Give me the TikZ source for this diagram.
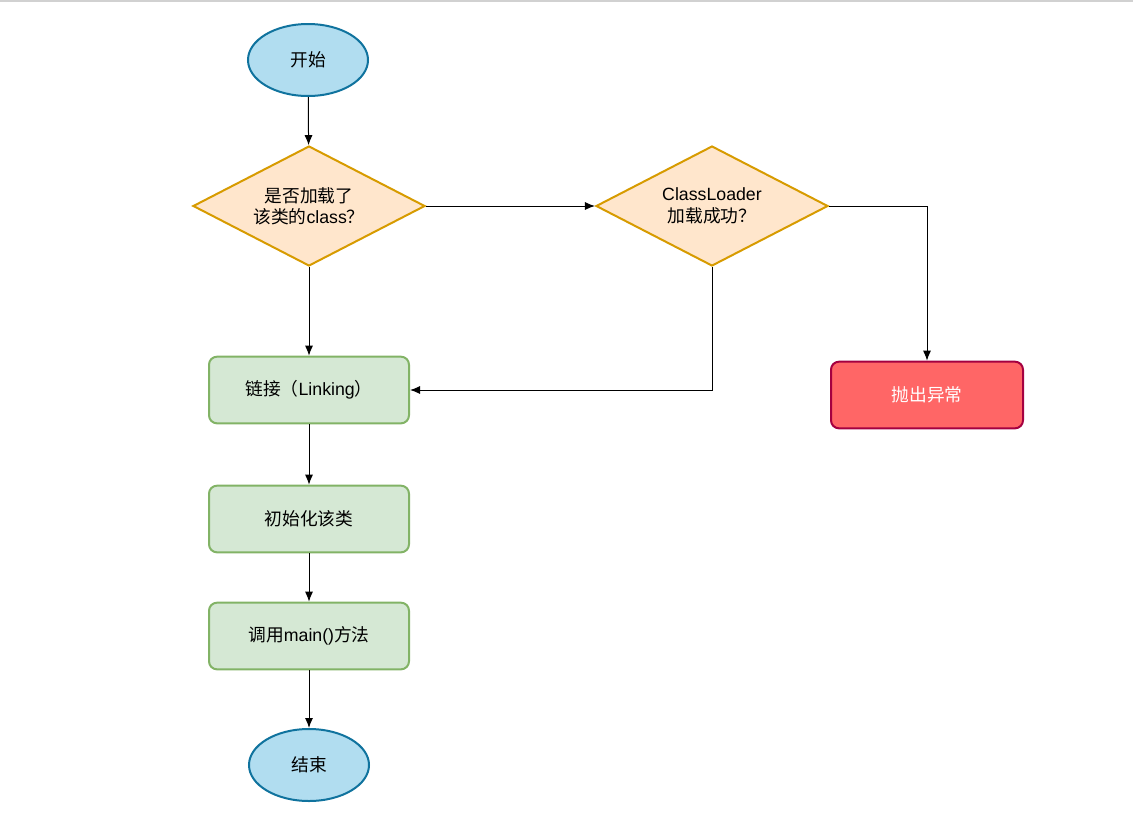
\documentclass[tikz,border=0pt]{standalone}
\usepackage{fontspec}
\setmainfont{Liberation Sans}
\newfontfamily\cjk{Noto Sans CJK SC}
\newcommand{\zh}[1]{{\cjk #1}}
\usetikzlibrary{arrows.meta}
\usetikzlibrary{shapes.geometric}
\definecolor{termfill}{HTML}{B1DDF0}
\definecolor{termline}{HTML}{10739E}
\definecolor{askfill}{HTML}{FFE6CC}
\definecolor{askline}{HTML}{D79B00}
\definecolor{stepfill}{HTML}{D5E8D4}
\definecolor{stepline}{HTML}{82B366}
\definecolor{errfill}{HTML}{FF6666}
\definecolor{errline}{HTML}{A50040}
\tikzstyle{term} = [draw=termline, fill=termfill, line width=1.5pt, shape=ellipse, minimum width=90pt, minimum height=54pt, inner sep=0pt]
\tikzstyle{ask} = [draw=askline, fill=askfill, line width=1.5pt, shape=diamond, aspect=1.93, minimum width=174pt, minimum height=90pt, inner sep=0pt, align=center]
\tikzstyle{stepbox} = [draw=stepline, fill=stepfill, line width=1.5pt, rounded corners=6pt, minimum width=150pt, minimum height=50pt]
\tikzstyle{errbox} = [draw=errline, fill=errfill, line width=1.5pt, rounded corners=6pt, minimum width=144pt, minimum height=50pt, text=white]
\tikzstyle{tuh} = [style={-{Latex[length=7.5pt,width=6pt]}, line width=0.75pt}]

\begin{document}
\begin{tikzpicture}[x=0.75pt, y=-0.75pt, font=\fontsize{13.3}{16}\selectfont]
        \useasboundingbox (0,0) rectangle (1133,836);
        \draw[black!18, line width=1.2pt] (0,0.8) -- (1133,0.8);
        \node[term] (start) at (308,60) {\zh{开始}};
        \node[ask] (loaded) at (309,206) {\zh{是否加载了}\\\zh{该类的}class\zh{？}};
        \node[ask] (cl) at (712,206) {ClassLoader\\\zh{加载成功？}};
        \node[stepbox] (link) at (309,390) {\zh{链接（}Linking\zh{）}};
        \node[stepbox] (init) at (309,519) {\zh{初始化该类}};
        \node[stepbox] (callmain) at (309,636) {\zh{调用}main()\zh{方法}};
        \node[term] (stop) at (309,765) {\zh{结束}};
        \node[errbox] (err) at (927,395) {\zh{抛出异常}};
        \draw[tuh] (start) edge (loaded);
        \draw[tuh] (loaded) edge (cl);
        \draw[tuh] (loaded) edge (link);
        \draw[tuh] (cl.south) |- (link.east);
        \draw[tuh] (cl.east) -| (err.north);
        \draw[tuh] (link) edge (init);
        \draw[tuh] (init) edge (callmain);
        \draw[tuh] (callmain) edge (stop);
      \end{tikzpicture}
\end{document}
